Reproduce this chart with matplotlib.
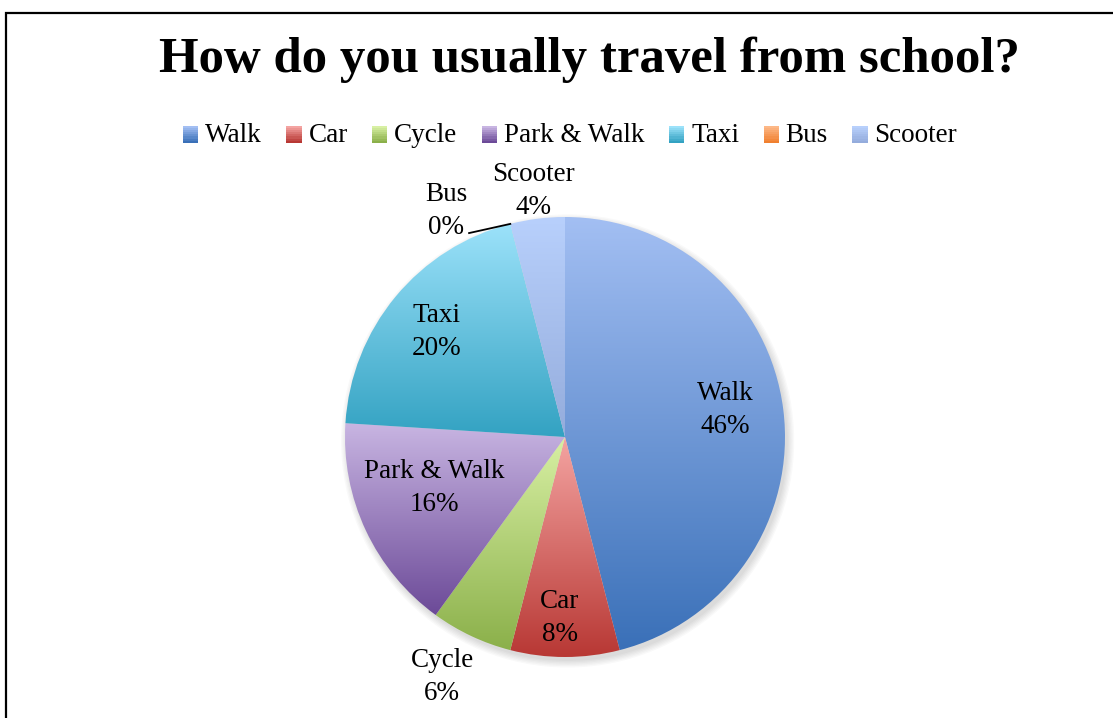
import matplotlib.pyplot as plt
import numpy as np
from matplotlib.colors import LinearSegmentedColormap
from matplotlib.patches import Rectangle, Circle
from matplotlib.legend_handler import HandlerBase

# survey answers (number of pupils)
modes = ['Walk', 'Car', 'Cycle', 'Park & Walk', 'Taxi', 'Bus', 'Scooter']
counts = [23, 4, 3, 8, 10, 0, 2]
# gradient colours per slice: (top, bottom)
top_colors = ['#a3bff3', '#f4a4a2', '#d8f0a4', '#c8b5e2', '#9ce2fa', '#fdb887', '#b8d0fc']
bottom_colors = ['#3a70b8', '#b83834', '#8bb04a', '#6c4a98', '#33a2c2', '#f08030', '#94acdc']

# label positions relative to pie centre (in radius units)
label_pos = [(0.727, 0.123), (-0.023, -0.823), (-0.559, -1.091), (-0.595, -0.232),
             (-0.586, 0.477), (-0.541, 1.027), (-0.145, 1.118)]

plt.rcParams['font.family'] = ['Liberation Serif', 'DejaVu Serif']

W, H = 1113, 718
fig = plt.figure(figsize=(W / 100, H / 100), dpi=100)

# chart frame
fig.add_artist(Rectangle((6 / W, -0.2), 1.5, (H - 13) / H + 0.2, transform=fig.transFigure,
                         fill=False, edgecolor='black', linewidth=1.6))

cx, cy, r = 565, H - 437, 220
ax = fig.add_axes([(cx - 1.5 * r) / W, (cy - 1.5 * r) / H, 3 * r / W, 3 * r / H])

total = sum(counts)
wedges, _ = ax.pie(counts, startangle=90, counterclock=False, radius=1,
                   colors=top_colors, wedgeprops=dict(linewidth=0))

# soft shadow
for k in range(6):
    ax.add_patch(Circle((0.012, -0.018), 1.0 + 0.006 * k, color='black', alpha=0.025,
                        zorder=0.5, lw=0))

grad = np.linspace(0, 1, 256).reshape(-1, 1)
for w, c0, c1, n in zip(wedges, top_colors, bottom_colors, counts):
    if n == 0:
        continue
    bb = w.get_path().get_extents(w.get_patch_transform())
    cmap = LinearSegmentedColormap.from_list('g', [c0, c1])
    im = ax.imshow(grad, extent=[bb.x0, bb.x1, bb.y0, bb.y1], origin='upper',
                   cmap=cmap, aspect='auto', zorder=2)
    im.set_clip_path(w)
    w.set_facecolor('none')

for name, n, (lx, ly) in zip(modes, counts, label_pos):
    ax.text(lx, ly, f'{name}\n{round(100 * n / total)}%', ha='center', va='center',
            fontsize=19.5, linespacing=1.4, zorder=5)

# leader line for the empty Bus slice
ang = np.deg2rad(90 - 360 * sum(counts[:5]) / total)
ax.plot([-0.436, np.cos(ang)], [0.927, np.sin(ang)], color='black', lw=1.3, zorder=5)

ax.set_xlim(-1.5, 1.5)
ax.set_ylim(-1.5, 1.5)
ax.axis('off')


class GradHandler(HandlerBase):
    def create_artists(self, legend, orig, xd, yd, width, height, fontsize, trans):
        c0, c1 = orig.top, orig.bottom
        arts = []
        steps = 8
        for i in range(steps):
            col = LinearSegmentedColormap.from_list('g', [c0, c1])(i / (steps - 1))
            arts.append(Rectangle((xd, yd + height - (i + 1) * height / steps), width,
                                  height / steps, facecolor=col, lw=0, transform=trans))
        return arts


handles = []
for c0, c1 in zip(top_colors, bottom_colors):
    h = Rectangle((0, 0), 1, 1)
    h.top, h.bottom = c0, c1
    handles.append(h)

fig.legend(handles, modes, handler_map={Rectangle: GradHandler()}, ncol=7,
           loc='center', bbox_to_anchor=(570 / W, 1 - 135 / H), frameon=False,
           fontsize=19.5, handlelength=0.57, handleheight=0.57, handletextpad=0.25,
           columnspacing=0.9)

fig.text(589 / W, 1 - 72 / H, 'How do you usually travel from school?', ha='center',
         va='baseline', fontsize=36.6, fontweight='bold')

fig.savefig('out.png', dpi=100)
